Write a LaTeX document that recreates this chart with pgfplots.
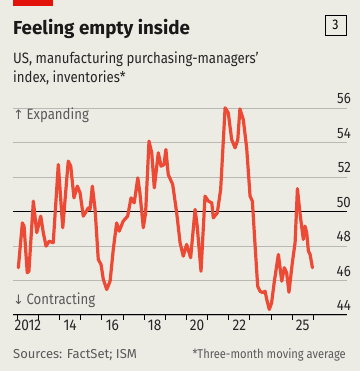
\documentclass[border=0pt]{standalone}
\usepackage{pgfplots}
\pgfplotsset{compat=1.18}
\usepackage{fontspec}
\setmainfont{Fira Sans}[FakeStretch=0.88]
\newfontfamily\plainfont{Fira Sans}
\newfontfamily\arrowfont{DejaVu Sans}
\definecolor{bg}{RGB}{236,235,228}
\definecolor{econred}{RGB}{227,18,11}
\definecolor{linered}{RGB}{236,74,52}
\definecolor{gridgray}{RGB}{185,185,180}
\definecolor{txtgray}{RGB}{90,90,90}
\begin{document}
\begin{tikzpicture}[x=1pt,y=1pt]
\fill[bg] (0,0) rectangle (360,371);
\fill[econred] (13,371) rectangle (53,365.3);
\node[anchor=base west, inner sep=0, text=black!90] at (13,336.7) {\plainfont\fontsize{18.8}{18.8}\selectfont\bfseries Feeling empty inside};
\node[anchor=base west, inner sep=0, text=black!85] at (13,307.7) {\fontsize{15}{15}\selectfont US, manufacturing purchasing-managers'};
\node[anchor=base west, inner sep=0, text=black!85] at (13,288.3) {\fontsize{15}{15}\selectfont index, inventories*};
\draw[black, line width=0.9pt] (325,336) rectangle (346,356);
\node[inner sep=0] at (335.5,346) {\fontsize{14}{14}\selectfont 3};
\begin{axis}[
  at={(13pt,56pt)}, anchor=south west,
  scale only axis, width=334pt, height=224.25pt,
  xmin=2011.797, xmax=2027.596, ymin=44, ymax=57,
  clip=false,
  axis x line*=bottom, axis y line*=right,
  x axis line style={black, line width=1pt},
  y axis line style={draw=none},
  xtick={2012,...,2026}, xticklabels={},
  tick align=outside, xtick style={black, line width=0.9pt},
  major tick length=5pt,
  extra x ticks={2012.5,2014.5,2016.5,2018.5,2020.5,2022.5,2025.5},
  extra x tick labels={2012,14,16,18,20,22,25},
  extra x tick style={major tick length=0pt, xticklabel style={yshift=-5pt}},
  ytick={44,46,...,56},
  ytick style={draw=none},
  ymajorgrids, grid style={gridgray, line width=0.8pt},
  yticklabel pos=right,
  yticklabel={\pgfmathprintnumber[assume math mode=true]{\tick}},
  yticklabel style={anchor=south east, inner sep=0pt, yshift=4pt, xshift=-1pt, text=black!85, font=\fontsize{15}{15}\selectfont},
  xticklabel style={text=black!85, font=\fontsize{15.5}{15.5}\selectfont, inner sep=0pt, anchor=north},
]
\draw[black, line width=1pt] (axis cs:2011.797,50) -- (axis cs:2027.596,50);
\node[anchor=base west, inner sep=0, text=txtgray] at (axis cs:2011.797,55.36) {\fontsize{15}{15}\selectfont{\arrowfont\fontsize{13}{13}\selectfont↑}\,Expanding};
\node[anchor=base west, inner sep=0, text=txtgray] at (axis cs:2011.797,44.62) {\fontsize{15}{15}\selectfont{\arrowfont\fontsize{13}{13}\selectfont↓}\,Contracting};
\addplot[linered, line width=3.2pt, line join=round, line cap=round] coordinates {
(2012.05,46.74)(2012.24,49.34)(2012.32,49.15)(2012.47,46.45)(2012.55,46.54)
(2012.76,50.60)(2012.92,48.77)(2013.11,49.73)(2013.23,48.77)(2013.36,47.99)
(2013.51,48.28)(2013.70,48.19)(2013.94,52.72)(2014.15,49.06)(2014.41,52.92)
(2014.53,52.63)(2014.68,50.79)(2014.84,51.47)(2014.97,51.08)(2015.12,49.73)
(2015.36,50.21)(2015.44,50.12)(2015.55,51.47)(2015.68,50.12)(2015.83,47.22)
(2015.96,46.93)(2016.07,46.06)(2016.23,45.48)(2016.39,45.96)(2016.54,47.80)
(2016.70,49.34)(2016.82,48.86)(2017.01,49.44)(2017.22,49.73)(2017.38,50.79)
(2017.53,50.50)(2017.70,51.95)(2017.80,51.08)(2017.96,49.06)(2018.07,49.92)
(2018.23,54.08)(2018.36,53.40)(2018.48,51.37)(2018.67,53.40)(2018.80,52.63)
(2018.94,52.72)(2019.03,53.59)(2019.14,52.14)(2019.35,51.57)(2019.54,49.92)
(2019.70,48.19)(2019.85,47.41)(2020.01,48.09)(2020.20,47.32)(2020.41,50.12)
(2020.51,49.15)(2020.69,46.54)(2020.88,50.89)(2021.04,50.60)(2021.20,50.50)
(2021.27,49.63)(2021.46,49.92)(2021.62,51.28)(2021.83,56.01)(2021.98,55.72)
(2022.14,54.17)(2022.30,53.69)(2022.43,54.17)(2022.53,55.95)(2022.69,55.33)
(2022.85,53.69)(2023.01,50.89)(2023.12,50.60)(2023.24,48.19)(2023.37,45.67)
(2023.48,45.38)(2023.61,45.29)(2023.72,45.38)(2023.80,44.90)(2023.92,44.32)
(2024.03,44.71)(2024.16,45.96)(2024.35,47.51)(2024.51,45.96)(2024.63,46.74)
(2024.74,46.45)(2024.85,45.32)(2025.01,47.03)(2025.14,48.19)(2025.25,51.32)
(2025.37,49.92)(2025.53,48.38)(2025.61,49.15)(2025.69,48.77)(2025.77,47.70)
(2025.85,47.51)(2025.96,46.74)
};
\end{axis}
\node[anchor=base west, inner sep=0, text=txtgray] at (13,12.3) {\plainfont\fontsize{13}{13}\selectfont Sources: FactSet; ISM};
\node[anchor=base east, inner sep=0, text=txtgray] at (346,12.3) {\fontsize{12.7}{12.7}\selectfont *Three-month moving average};
\end{tikzpicture}
\end{document}
